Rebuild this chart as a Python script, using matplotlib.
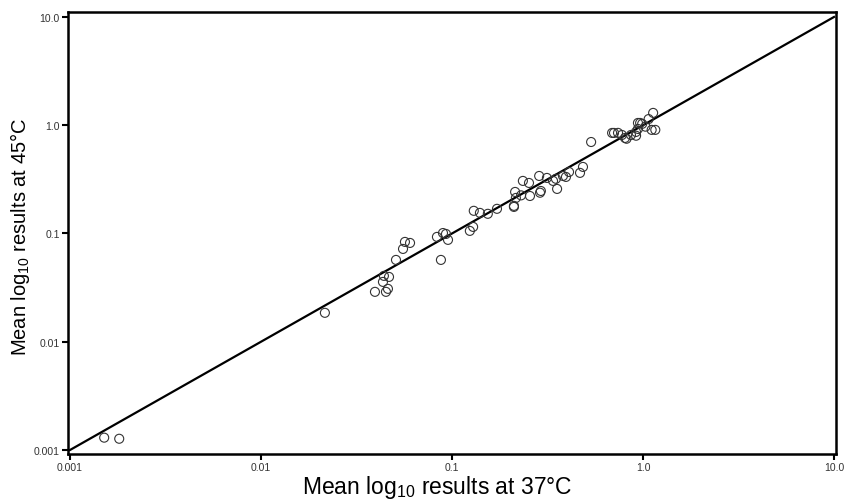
import numpy as np
import matplotlib
matplotlib.use("Agg")
import matplotlib.pyplot as plt

# mean results, 37C vs 45C
temp37 = [0.00151, 0.00181, 0.0216, 0.0395, 0.0451, 0.0462, 0.0435, 0.044,
          0.0468, 0.0509, 0.0554, 0.0567, 0.0603, 0.0834, 0.0897, 0.093,
          0.0953, 0.0875, 0.124, 0.129, 0.130, 0.140, 0.154, 0.172, 0.211,
          0.211, 0.214, 0.216, 0.235, 0.253, 0.256, 0.23, 0.286, 0.292,
          0.289, 0.314, 0.338, 0.35, 0.355, 0.381, 0.395, 0.410, 0.468,
          0.485, 0.535, 0.689, 0.705, 0.776, 0.805, 0.82, 0.865, 0.919,
          0.941, 0.941, 0.966, 0.99, 1.03, 1.07, 1.11, 1.16, 1.13, 0.92,
          0.74]
temp45 = [0.0013, 0.00127, 0.0185, 0.0289, 0.0289, 0.0308, 0.0357, 0.0406,
          0.0397, 0.057, 0.072, 0.0836, 0.0818, 0.093, 0.101, 0.099,
          0.0873, 0.057, 0.1057, 0.115, 0.162, 0.155, 0.152, 0.169, 0.180,
          0.176, 0.242, 0.213, 0.306, 0.293, 0.222, 0.225, 0.340, 0.247,
          0.238, 0.326, 0.306, 0.32, 0.258, 0.340, 0.333, 0.370, 0.363,
          0.412, 0.70, 0.849, 0.849, 0.813, 0.763, 0.75, 0.813, 0.867,
          0.924, 1.05, 1.05, 1.03, 0.97, 1.14, 0.906, 0.906, 1.30, 0.80,
          0.85]

tick_vals = [0.001, 0.01, 0.1, 1.0, 10.0]
tick_labels = ["0.001", "0.01", "0.1", "1.0", "10.0"]

plt.rcParams["font.family"] = ["Liberation Sans", "DejaVu Sans"]
plt.rcParams["mathtext.fontset"] = "custom"
plt.rcParams["mathtext.rm"] = "Liberation Sans"

fig = plt.figure(figsize=(8.44, 5.02), dpi=100)
ax = fig.add_axes([68 / 844, 1 - 455 / 502, 768 / 844, 442 / 502])

ax.set_xscale("log")
ax.set_yscale("log")
ax.set_xlim(10 ** -3.0105, 10 ** 1.0105)
ax.set_ylim(10 ** -3.037, 10 ** 1.046)

# line of equality
ax.plot([0.001, 10], [0.001, 10], color="black", lw=1.6, zorder=2)
ax.scatter(temp37, temp45, s=42, facecolors="none", edgecolors="#333333",
           linewidths=0.8, zorder=3)

ax.set_xticks(tick_vals)
ax.set_xticklabels(tick_labels)
ax.set_yticks(tick_vals)
ax.set_yticklabels(tick_labels)
ax.minorticks_off()
ax.tick_params(direction="out", length=4, width=1.5, labelsize=7.5,
               colors="black", pad=2)
for lbl in ax.get_xticklabels() + ax.get_yticklabels():
    lbl.set_color("#333333")

for side in ["top", "right", "bottom", "left"]:
    ax.spines[side].set_linewidth(1.8)

fig.text(437 / 844, 1 - 488 / 502, "Mean log$_{10}$ results at 37°C",
         fontsize=16.5, ha="center", va="center")
fig.text(20 / 844, 1 - 237 / 502, "Mean log$_{10}$ results at 45°C",
         fontsize=14.5, rotation=90, ha="center", va="center")

fig.savefig("out.png", dpi=100)
